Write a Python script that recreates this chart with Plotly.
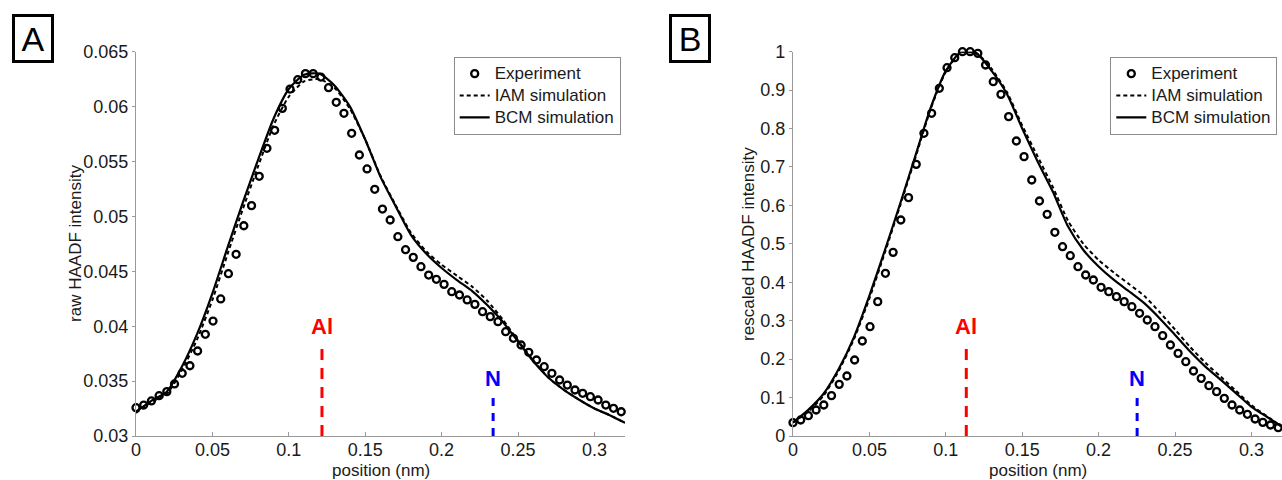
import plotly.graph_objects as go

# ---------------- data ----------------
exp_x = [0.0, 0.00504, 0.01008, 0.01512, 0.02016, 0.0252, 0.03024, 0.03528, 0.04032, 0.04536,
         0.0504, 0.05544, 0.06048, 0.06552, 0.07056, 0.0756, 0.08064, 0.08568, 0.09072, 0.09576,
         0.1008, 0.10584, 0.11088, 0.11592, 0.12096, 0.126, 0.13104, 0.13608, 0.14112, 0.14616,
         0.1512, 0.15624, 0.16128, 0.16632, 0.17136, 0.1764, 0.18144, 0.18648, 0.19152, 0.19656,
         0.2016, 0.20664, 0.21168, 0.21672, 0.22176, 0.2268, 0.23184, 0.23688, 0.24192, 0.24696,
         0.252, 0.25704, 0.26208, 0.26712, 0.27216, 0.2772, 0.28224, 0.28728, 0.29232, 0.29736,
         0.3024, 0.30744, 0.31248, 0.31752]

exp_raw = [0.03258, 0.03282, 0.03319, 0.03367, 0.03404, 0.03474, 0.03571, 0.03640, 0.03774, 0.03926,
           0.04047, 0.04248, 0.04478, 0.04655, 0.04915, 0.05098, 0.05365, 0.05620, 0.05784, 0.05984,
           0.06160, 0.06245, 0.06300, 0.06300, 0.06269, 0.06172, 0.06039, 0.05939, 0.05757, 0.05559,
           0.05432, 0.05247, 0.05067, 0.04967, 0.04815, 0.04697, 0.04627, 0.04542, 0.04466, 0.04427,
           0.04381, 0.04314, 0.04284, 0.04239, 0.04199, 0.04132, 0.04087, 0.04041, 0.03950, 0.03890,
           0.03829, 0.03762, 0.03692, 0.03631, 0.03571, 0.03510, 0.03464, 0.03419, 0.03389, 0.03358,
           0.03328, 0.03282, 0.03252, 0.03221]

exp_rescaled = [0.0347, 0.0416, 0.0529, 0.0677, 0.0807, 0.1050, 0.1344, 0.1561, 0.1978, 0.2472,
                0.2845, 0.3496, 0.4233, 0.4779, 0.5621, 0.6202, 0.7069, 0.7876, 0.8397, 0.9047,
                0.9584, 0.9844, 1.0, 1.0, 0.9957, 0.9654, 0.9220, 0.8890, 0.8310, 0.7676,
                0.7269, 0.6661, 0.6115, 0.5768, 0.5300, 0.4926, 0.4692, 0.4405, 0.4189, 0.4059,
                0.3869, 0.3756, 0.3626, 0.3496, 0.3365, 0.3192, 0.3018, 0.2845, 0.2611, 0.2368,
                0.2151, 0.1934, 0.1691, 0.1500, 0.1310, 0.1154, 0.0980, 0.0807, 0.0677, 0.0564,
                0.0442, 0.0355, 0.0286, 0.0217]

sim_x = [0.0, 0.01, 0.02, 0.03, 0.04, 0.05, 0.06, 0.07, 0.08, 0.09, 0.10, 0.11, 0.12, 0.13, 0.14, 0.15,
         0.16, 0.17, 0.18, 0.19, 0.20, 0.21, 0.22, 0.23, 0.24, 0.25, 0.26, 0.27, 0.28, 0.29, 0.30, 0.31, 0.32]

iam_raw = [0.0321, 0.0331, 0.0338, 0.0360, 0.0388, 0.0424, 0.0466, 0.0507, 0.0546, 0.0583, 0.0609,
           0.0623, 0.0625, 0.0617, 0.0598, 0.0570, 0.0537, 0.0510, 0.0485, 0.0468, 0.0456, 0.0446,
           0.0436, 0.0423, 0.0406, 0.0387, 0.0369, 0.0353, 0.0342, 0.0333, 0.0325, 0.0319, 0.0312]
bcm_raw = [0.0322, 0.0332, 0.0340, 0.0363, 0.0393, 0.0430, 0.0472, 0.0513, 0.0552, 0.0589, 0.0616,
           0.0629, 0.0630, 0.0619, 0.0600, 0.0570, 0.0536, 0.0509, 0.0483, 0.0466, 0.0453, 0.0442,
           0.0432, 0.0419, 0.0404, 0.0386, 0.0368, 0.0353, 0.0342, 0.0333, 0.0325, 0.0319, 0.0312]

iam_rescaled = [0.035, 0.064, 0.105, 0.170, 0.253, 0.358, 0.476, 0.598, 0.723, 0.850, 0.948,
                0.998, 0.996, 0.955, 0.895, 0.808, 0.728, 0.648, 0.560, 0.500, 0.458, 0.425,
                0.395, 0.364, 0.322, 0.277, 0.231, 0.190, 0.154, 0.117, 0.080, 0.052, 0.024]
bcm_rescaled = [0.035, 0.068, 0.110, 0.175, 0.258, 0.365, 0.482, 0.603, 0.728, 0.853, 0.950,
                1.0, 0.996, 0.950, 0.890, 0.800, 0.715, 0.636, 0.545, 0.484, 0.441, 0.406,
                0.376, 0.345, 0.306, 0.263, 0.219, 0.180, 0.146, 0.111, 0.076, 0.050, 0.024]

# atom positions (nm) and marker extents
al_pos = [0.1217, 0.1134]
n_pos = [0.2337, 0.2252]
al_top = [0.0386, 0.245]
n_top = [0.0336, 0.10]
al_label_y = [0.0400, 0.285]
n_label_y = [0.0352, 0.149]

x_ticks = [0, 0.05, 0.1, 0.15, 0.2, 0.25, 0.3]
x_ticktext = ["0", "0.05", "0.1", "0.15", "0.2", "0.25", "0.3"]
yA_ticks = [0.03, 0.035, 0.04, 0.045, 0.05, 0.055, 0.06, 0.065]
yA_ticktext = ["0.03", "0.035", "0.04", "0.045", "0.05", "0.055", "0.06", "0.065"]
yB_ticks = [0, 0.1, 0.2, 0.3, 0.4, 0.5, 0.6, 0.7, 0.8, 0.9, 1]
yB_ticktext = ["0", "0.1", "0.2", "0.3", "0.4", "0.5", "0.6", "0.7", "0.8", "0.9", "1"]

panel_labels = ["A", "B"]
y_titles = ["raw HAADF intensity", "rescaled HAADF intensity"]
series_names = ["Experiment", "IAM simulation", "BCM simulation"]

# ---------------- figure ----------------
W, H = 1282, 480
FONT = "Arial, 'Liberation Sans', sans-serif"
TXT = "#1a1a1a"

def px(v):
    return v / W

def py(v):
    return (H - v) / H

def leg_name(s):
    return "<span style='font-size:17px'>" + s + "</span>"

fig = go.Figure()

panels = [
    dict(xa="x", ya="y", leg="legend", exp=exp_raw, iam=iam_raw, bcm=bcm_raw),
    dict(xa="x2", ya="y2", leg="legend2", exp=exp_rescaled, iam=iam_rescaled, bcm=bcm_rescaled),
]

for i, p in enumerate(panels):
    fig.add_trace(go.Scatter(
        x=exp_x, y=p["exp"], mode="markers", name=leg_name(series_names[0]),
        marker=dict(symbol="circle-open", size=7, color="black", line=dict(width=2.3, color="black")),
        xaxis=p["xa"], yaxis=p["ya"], legend=p["leg"], cliponaxis=False))
    fig.add_trace(go.Scatter(
        x=sim_x, y=p["iam"], mode="lines", name=leg_name(series_names[1]),
        line=dict(color="black", width=2, dash="4px,3px", shape="spline", smoothing=0.6),
        xaxis=p["xa"], yaxis=p["ya"], legend=p["leg"]))
    fig.add_trace(go.Scatter(
        x=sim_x, y=p["bcm"], mode="lines", name=leg_name(series_names[2]),
        line=dict(color="black", width=2.2, shape="spline", smoothing=0.6),
        xaxis=p["xa"], yaxis=p["ya"], legend=p["leg"]))

    # element markers
    y0 = 0.03 if i == 0 else 0.0
    fig.add_shape(type="line", xref=p["xa"], yref=p["ya"],
                  x0=al_pos[i], x1=al_pos[i], y0=y0, y1=al_top[i],
                  line=dict(color="#ff0000", width=3, dash="11px,8px"))
    fig.add_shape(type="line", xref=p["xa"], yref=p["ya"],
                  x0=n_pos[i], x1=n_pos[i], y0=y0, y1=n_top[i],
                  line=dict(color="#0000ff", width=3, dash="8px,7px"))
    fig.add_annotation(x=al_pos[i], y=al_label_y[i], xref=p["xa"], yref=p["ya"],
                       text="<b>Al</b>", showarrow=False, xanchor="center", yanchor="middle",
                       font=dict(family=FONT, size=22, color="#ff0000"))
    fig.add_annotation(x=n_pos[i], y=n_label_y[i], xref=p["xa"], yref=p["ya"],
                       text="<b>N</b>", showarrow=False, xanchor="center", yanchor="middle",
                       font=dict(family=FONT, size=22, color="#0000ff"))

axis_common = dict(showgrid=False, zeroline=False, showline=True, linecolor="#9a9a9a",
                   linewidth=1.2, mirror=False, tickcolor="#9a9a9a",
                   tickfont=dict(family=FONT, size=18, color=TXT), automargin=False)

ydom = [py(436), py(51.7)]
legend_common = dict(yanchor="top", xanchor="right", bordercolor="#8c8c8c", borderwidth=1,
                     bgcolor="white", font=dict(family=FONT, size=14.5, color=TXT),
                     tracegroupgap=0, itemwidth=30)
fig.update_layout(
    width=W, height=H,
    margin=dict(l=0, r=0, t=0, b=0),
    paper_bgcolor="white", plot_bgcolor="white",
    xaxis=dict(domain=[px(136), px(625)], range=[0, 0.32], tickvals=x_ticks, ticktext=x_ticktext,
               ticks="inside", ticklen=4, ticklabelstandoff=-3, anchor="y", **axis_common),
    yaxis=dict(domain=ydom, range=[0.03, 0.065], tickvals=yA_ticks, ticktext=yA_ticktext,
               ticks="outside", ticklen=3, anchor="x", **axis_common),
    xaxis2=dict(domain=[px(793), 1.0], range=[0, 0.32], tickvals=x_ticks, ticktext=x_ticktext,
                ticks="inside", ticklen=4, ticklabelstandoff=-3, anchor="y2", **axis_common),
    yaxis2=dict(domain=ydom, range=[0, 1], tickvals=yB_ticks, ticktext=yB_ticktext,
                ticks="outside", ticklen=3, anchor="x2", **axis_common),
    legend=dict(x=px(620.7), y=py(56.7), **legend_common),
    legend2=dict(x=px(1277.3), y=py(56.7), **legend_common),
    showlegend=True,
)

# axis titles
fig.add_annotation(x=px(76), y=py(243.9), xref="paper", yref="paper", text=y_titles[0],
                   textangle=-90, showarrow=False, xanchor="center", yanchor="middle",
                   font=dict(family=FONT, size=17, color=TXT))
fig.add_annotation(x=px(749), y=py(243.9), xref="paper", yref="paper", text=y_titles[1],
                   textangle=-90, showarrow=False, xanchor="center", yanchor="middle",
                   font=dict(family=FONT, size=17, color=TXT))
fig.add_annotation(x=px(380.5), y=py(470.5), xref="paper", yref="paper", text="position (nm)",
                   showarrow=False, xanchor="center", yanchor="middle",
                   font=dict(family=FONT, size=17, color=TXT))
fig.add_annotation(x=px(1037.5), y=py(470.5), xref="paper", yref="paper", text="position (nm)",
                   showarrow=False, xanchor="center", yanchor="middle",
                   font=dict(family=FONT, size=17, color=TXT))

# panel labels
for lx, lab in [(32.85, panel_labels[0]), (690.3, panel_labels[1])]:
    fig.add_annotation(x=px(lx), y=py(38.65), xref="paper", yref="paper", text=lab,
                       showarrow=False, width=34, height=41, borderwidth=3, borderpad=1,
                       bordercolor="black", xanchor="center", yanchor="middle",
                       font=dict(family=FONT, size=34, color="black"))

fig.write_html("out.html", config={"responsive": False, "displayModeBar": False},
               post_script="document.body.style.margin='0px';document.body.style.overflow='hidden';")
